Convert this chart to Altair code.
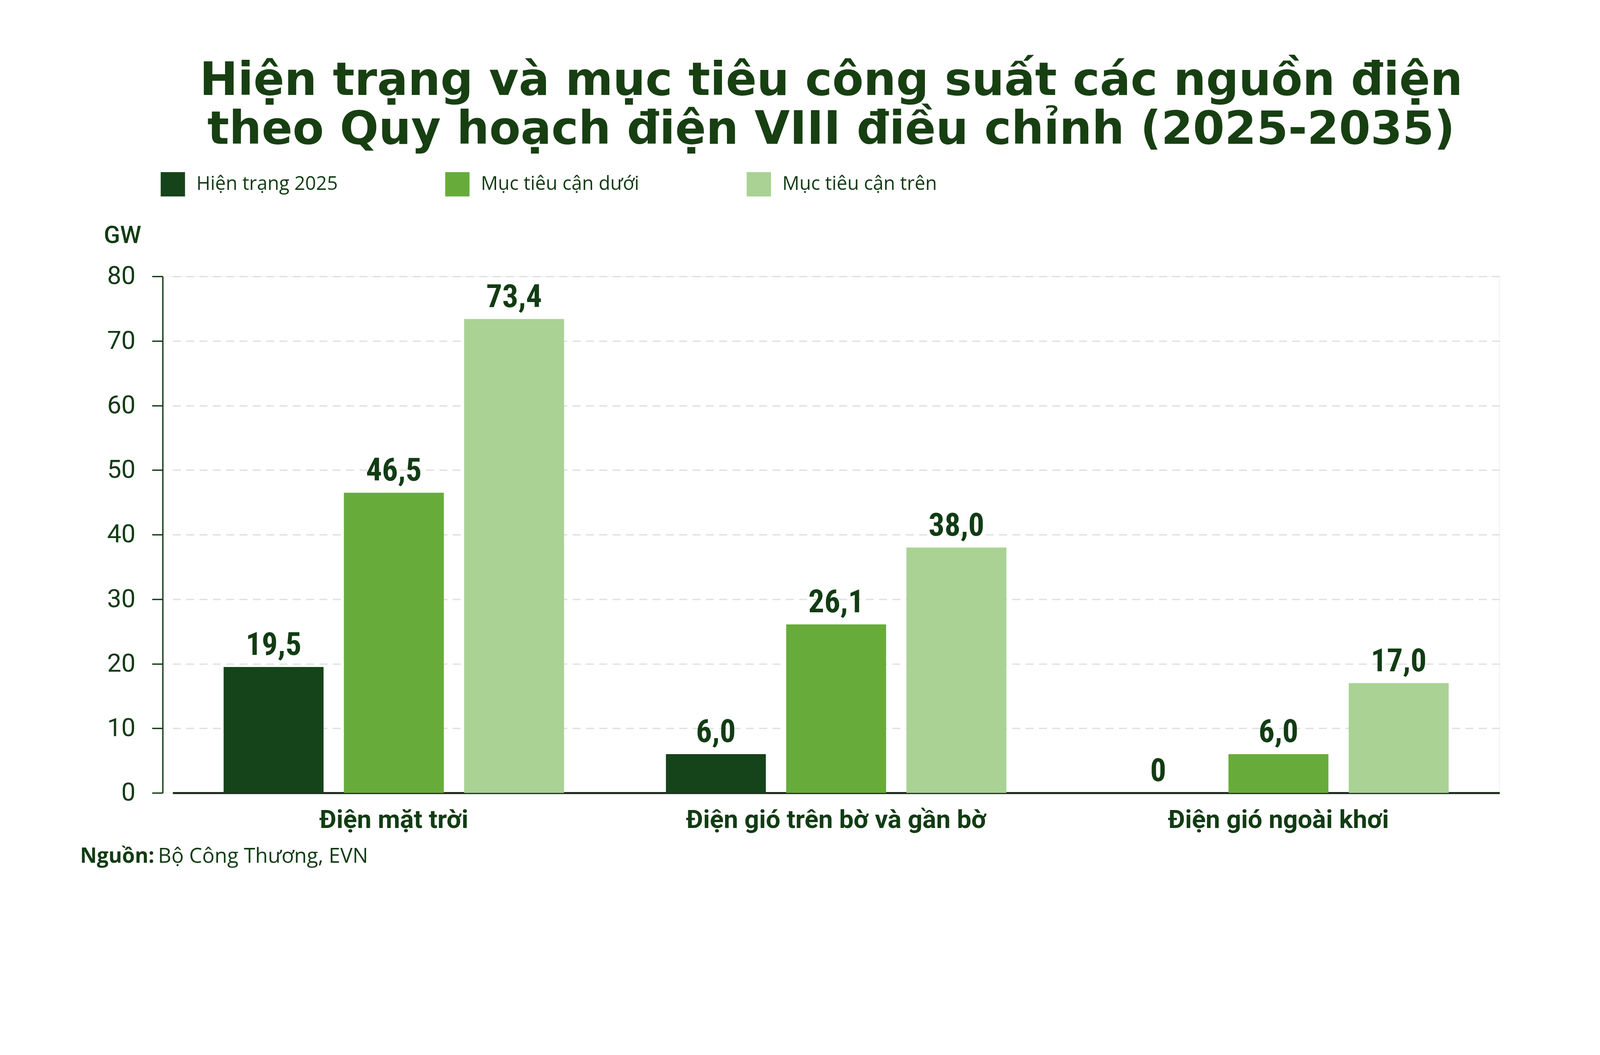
import altair as alt
import pandas as pd

categories = ["Điện mặt trời", "Điện gió trên bờ và gần bờ", "Điện gió ngoài khơi"]
series = ["Hiện trạng 2025", "Mục tiêu cận dưới", "Mục tiêu cận trên"]
hien_trang_2025 = [19.5, 6.0, 0.0]
muc_tieu_can_duoi = [46.5, 26.1, 6.0]
muc_tieu_can_tren = [73.4, 38.0, 17.0]
colors = ["#15431a", "#67ac3b", "#a9d294"]
title_lines = ["Hiện trạng và mục tiêu công suất các nguồn điện",
               "theo Quy hoạch điện VIII điều chỉnh (2025-2035)"]
source_bold = "Nguồn:"
source_text = "Bộ Công Thương, EVN"

rows = []
for s, vals in zip(series, [hien_trang_2025, muc_tieu_can_duoi, muc_tieu_can_tren]):
    for c, v in zip(categories, vals):
        lab = "0" if v == 0 else f"{v:.1f}".replace(".", ",")
        rows.append({"cat": c, "series": s, "value": v, "label": lab})
df = pd.DataFrame(rows)

DARK = "#123c14"
COND = "Roboto Condensed, Liberation Sans Narrow, DejaVu Sans Condensed, Roboto"

x_enc = alt.X("cat:N", sort=categories,
              scale=alt.Scale(range=[30, 4013], paddingInner=0, paddingOuter=0),
              axis=alt.Axis(title=None, labelAngle=0, ticks=False, domainColor="#1f2a1f",
                            domainWidth=6, labelPadding=44, labelFont="Roboto",
                            labelFontWeight="bold", labelFontSize=77, labelColor=DARK,
                            labelLimit=2000))
xo_enc = alt.XOffset("series:N", sort=series,
                     scale=alt.Scale(paddingInner=0.169, paddingOuter=0.4235))
y_enc = alt.Y("value:Q", scale=alt.Scale(domain=[0, 80], nice=False),
              axis=alt.Axis(values=list(range(0, 81, 10)), title="GW", titleAngle=0,
                            titleX=-121, titleY=-100, titleAlign="center",
                            titleBaseline="alphabetic", titleFont="Roboto",
                            titleFontSize=72, titleFontWeight=500, titleColor=DARK,
                            labelFont="Roboto", labelFontSize=76, labelFontWeight="normal",
                            labelColor=DARK, labelPadding=50, tickSize=32, tickWidth=4,
                            tickColor=DARK, domainColor=DARK, domainWidth=4,
                            gridColor="#dde3dd", gridDash=[24, 16], gridWidth=4))

bars = alt.Chart(df).mark_bar().encode(
    x=x_enc, xOffset=xo_enc, y=y_enc,
    color=alt.Color("series:N", sort=series,
                    scale=alt.Scale(domain=series, range=colors),
                    legend=alt.Legend(orient="none", legendX=-6, legendY=-313,
                                      direction="horizontal", title=None,
                                      symbolType="square", symbolSize=5329,
                                      symbolStrokeWidth=0, symbolOpacity=1,
                                      labelFont="Open Sans", labelFontSize=57,
                                      labelColor=DARK, labelOffset=34,
                                      columnPadding=322, padding=0, labelLimit=2000)),
)

texts = alt.Chart(df).mark_text(baseline="alphabetic", dy=-36, font=COND,
                                fontWeight="bold", fontSize=95, color=DARK).encode(
    x=alt.X("cat:N", sort=categories), xOffset=alt.XOffset("series:N", sort=series),
    y="value:Q", text="label:N")

src1 = alt.Chart(pd.DataFrame({"t": [source_bold]})).mark_text(
    align="left", baseline="alphabetic", font="Open Sans", fontWeight="bold",
    fontSize=62, color=DARK).encode(x=alt.value(-248), y=alt.value(1760), text="t:N")
src2 = alt.Chart(pd.DataFrame({"t": [source_text]})).mark_text(
    align="left", baseline="alphabetic", font="Open Sans", fontSize=62,
    color=DARK).encode(x=alt.value(-14), y=alt.value(1760), text="t:N")

chart = alt.layer(bars, texts, src1, src2).properties(
    width=4013, height=1550,
    padding={"left": 479, "top": 607, "right": 292, "bottom": 312},
    autosize=alt.AutoSizeParams(type="none"),
    title=alt.TitleParams(text=title_lines, fontSize=137, lineHeight=146,
                          font="DejaVu Sans", fontWeight="bold", color="#173f12",
                          anchor="middle", frame="group", offset=56),
).configure_view(stroke=None).configure(background="white")

chart.save("out.html", embed_options={"renderer": "svg", "actions": False})
